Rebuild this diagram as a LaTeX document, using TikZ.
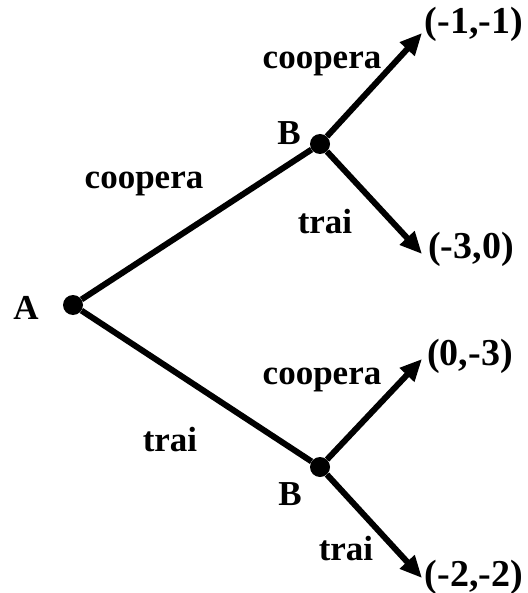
\documentclass[tikz,border=0pt]{standalone}
\usepackage{fontspec}
\setmainfont{Liberation Serif}
\usetikzlibrary{arrows.meta,positioning}

\begin{document}
\begin{tikzpicture}[x=1pt, y=-1pt,
  dot/.style={circle, fill=black, inner sep=0pt, minimum size=20pt},
  lbl/.style={font=\fontsize{35}{40}\selectfont\bfseries, inner sep=0pt},
  payoff/.style={font=\fontsize{38}{44}\selectfont\bfseries, inner sep=0pt},
  edge/.style={line width=6pt},
  arr/.style={-{Triangle[length=22pt, width=19pt]}, line width=6pt}
]
  \useasboundingbox (0,0) rectangle (527,593);

  % decision points
  \node[dot] (a) at (73,305) {};
  \node[dot] (bup) at (320,144) {};
  \node[dot] (blow) at (320,467) {};

  % arrow tips
  \coordinate (tipcc) at (422,33);
  \coordinate (tipct) at (422,254);
  \coordinate (tiptc) at (422,359);
  \coordinate (tiptt) at (422,578);

  % payoffs
  \node[payoff] (paycc) at (474,24) {(-1,-1)};
  \node[payoff] (payct) at (471,249) {(-3,0)};
  \node[payoff] (paytc) at (470,356) {(0,-3)};
  \node[payoff] (paytt) at (474,577) {(-2,-2)};

  % players
  \node[lbl] (pa) at (26,308) {A};
  \node[lbl] (pbup) at (289,133) {B};
  \node[lbl] (pblow) at (290,494) {B};

  % moves
  \node[lbl] (mac) at (144,184) {coopera};
  \node[lbl] (mat) at (170,440) {trai};
  \node[lbl] (mbc1) at (322,64) {coopera};
  \node[lbl] (mbt1) at (325,222) {trai};
  \node[lbl] (mbc2) at (322,380) {coopera};
  \node[lbl] (mbt2) at (346,549) {trai};

  \draw[edge] (a) -- (bup);
  \draw[edge] (a) -- (blow);
  \draw[arr] (bup) -- (tipcc);
  \draw[arr] (bup) -- (tipct);
  \draw[arr] (blow) -- (tiptc);
  \draw[arr] (blow) -- (tiptt);
\end{tikzpicture}
\end{document}
